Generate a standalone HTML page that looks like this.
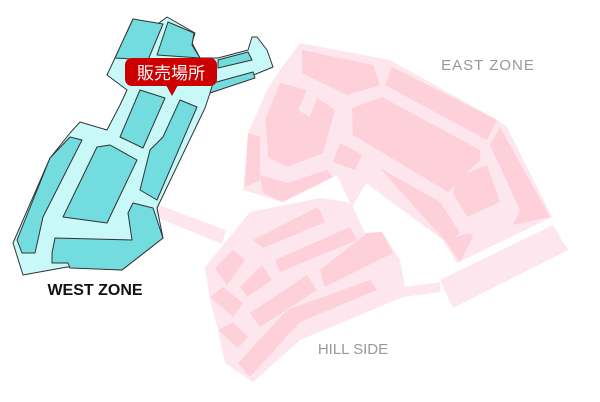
<!DOCTYPE html>
<html><head><meta charset="utf-8"><style>
html,body{margin:0;padding:0;background:#fff;}
svg{display:block;}
</style></head><body>
<svg width="600" height="402" viewBox="0 0 600 402" xmlns="http://www.w3.org/2000/svg">
<!-- connector west to hill -->
<polygon points="156,204 226,230 222,244 158,218" fill="#fde6ee"/>
<!-- EAST outline -->
<polygon points="300,43 390,60 497,120 507,127 552,217 457,263 443,240 366,183 352,207 337,175 282,202 243,190 248,133 267,90 282,67" fill="#fde6ee"/>
<!-- HILL outline -->
<polygon points="250,212 320,198 347,202 353,207 365,233 382,232 400,260 405,287 440,282 440,292 403,297 300,340 253,382 225,363 218,330 210,300 205,267 233,233" fill="#fde6ee"/>
<!-- long bar -->
<polygon points="440,280 553,225 568,250 453,308" fill="#fde6ee"/>
<!-- east blocks -->
<g fill="#fdd0da">
<polygon points="302,50 373,65 380,85 347,95 302,73"/>
<polygon points="392,67 497,120 487,140 385,85"/>
<polygon points="352,108 382,97 480,150 480,160 448,192 353,135"/>
<polygon points="500,127 550,217 513,225 520,210 490,145"/>
<polygon points="458,177 487,165 500,202 467,217 453,193"/>
<polygon points="380,168 440,202 460,233 447,243"/>
<polygon points="445,240 470,233 473,237 460,262"/>
<polygon points="280,83 307,90 298,110 310,117 317,98 335,110 323,153 287,167 268,157 267,137 265,120"/>
<polygon points="248,133 260,137 260,180 245,187"/>
<polygon points="260,175 288,183 327,170 333,177 283,202 263,193"/>
<polygon points="340,143 362,155 355,170 333,162"/>
<!-- hill blocks -->
<polygon points="253,240 318,207 325,222 263,248"/>
<polygon points="275,260 350,227 357,240 280,272"/>
<polygon points="320,270 367,233 382,232 393,253 325,287"/>
<polygon points="215,268 233,250 245,260 227,285"/>
<polygon points="240,287 262,265 272,280 247,297"/>
<polygon points="250,313 307,275 317,290 260,327"/>
<polygon points="210,297 223,287 243,303 233,317"/>
<polygon points="218,330 233,322 248,337 238,348"/>
<polygon points="238,363 287,310 370,280 377,290 300,322 250,377"/>
</g>
<!-- WEST -->
<g stroke="#333" stroke-width="1" stroke-linejoin="round">
<polygon fill="#c8f8f8" points="133,19 155,26 167,17 195,33 192,43 200,58 218,58 248,50 252,37 257,37 267,50 273,67 210,93 205,108 157,208 163,238 122,270 67,267 23,275 13,243 50,158 70,133 80,122 107,130 120,105 127,90 107,75 115,58"/>
<g fill="#72dcdf">
<polygon points="133,19 163,24 148,60 115,58"/>
<polygon points="168,22 194,33 192,45 200,58 157,55"/>
<polygon points="218,60 248,52 252,60 218,68"/>
<polygon points="213,83 253,72 255,78 210,93"/>
<polygon points="120,137 140,90 165,98 143,148"/>
<polygon points="180,100 197,107 157,200 140,190 150,150 163,137"/>
<polygon points="63,217 97,147 110,145 137,160 107,223 85,220"/>
<polygon points="17,240 50,158 70,137 82,140 43,217 35,253 22,253"/>
<polygon points="52,253 55,238 132,240 128,213 133,203 153,208 163,238 122,270 70,268 68,263 52,263"/>
</g>
</g>
<!-- label bubble -->
<rect x="125" y="58" width="92" height="28" rx="7" fill="#cc0000"/>
<polygon points="166,85 178,85 172,96" fill="#cc0000"/>
<text x="171" y="79" fill="#fff" font-size="17" text-anchor="middle" font-family="'Liberation Sans','Noto Sans CJK JP',sans-serif">販売場所</text>
<text x="95" y="295" fill="#111" font-size="16" font-weight="bold" text-anchor="middle" font-family="'Liberation Sans',sans-serif">WEST ZONE</text>
<text x="488" y="70" fill="#999" font-size="15" text-anchor="middle" letter-spacing="1" font-family="'Liberation Sans',sans-serif">EAST ZONE</text>
<text x="353" y="354" fill="#999" font-size="15" text-anchor="middle" font-family="'Liberation Sans',sans-serif">HILL SIDE</text>
</svg>
</body></html>
